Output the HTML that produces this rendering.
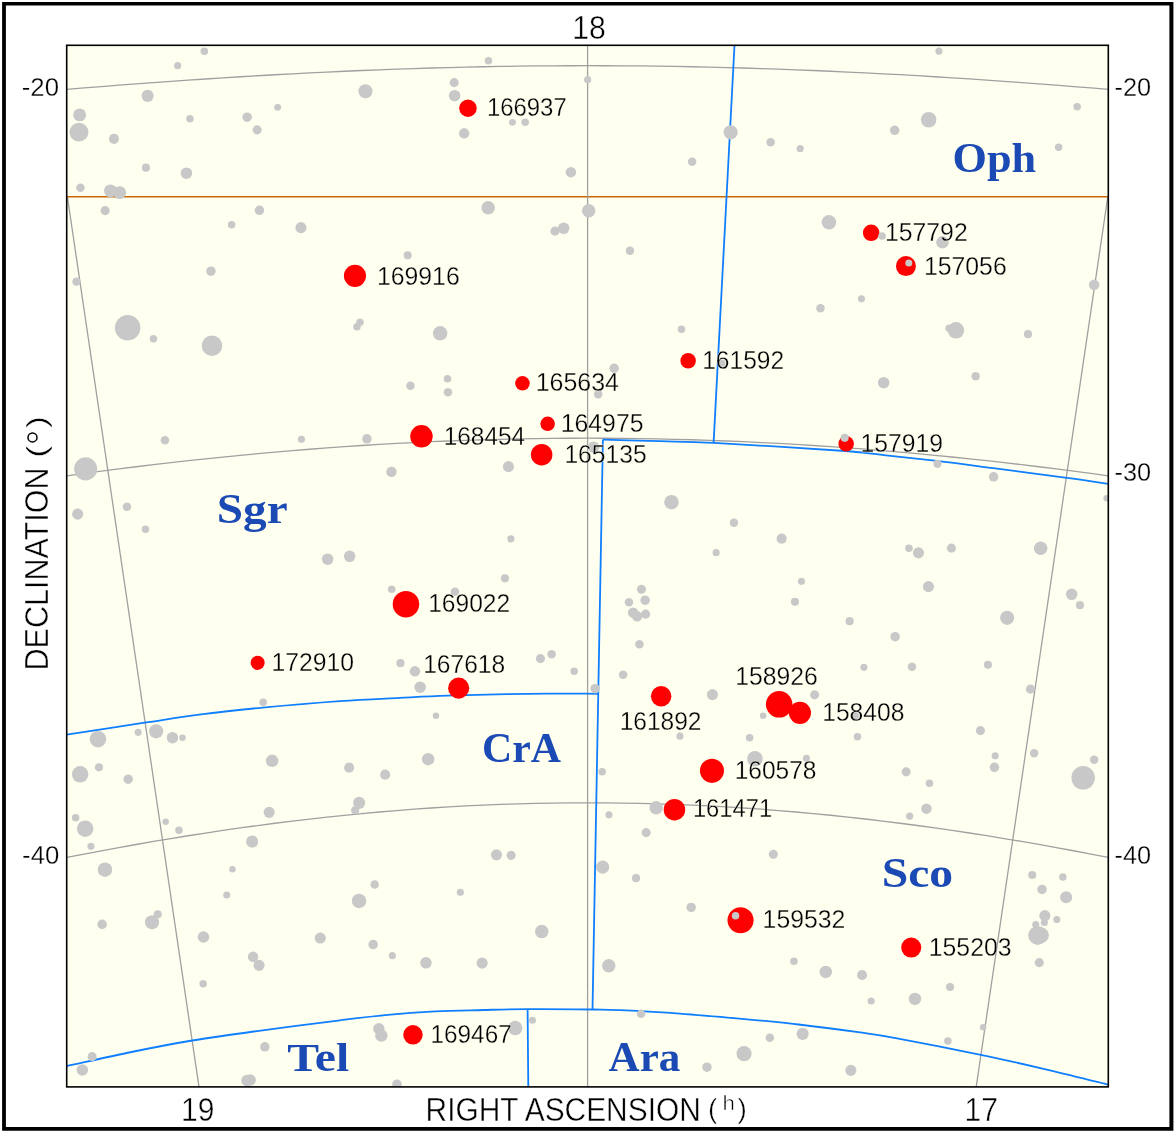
<!DOCTYPE html>
<html><head><meta charset="utf-8"><title>chart</title>
<style>
html,body{margin:0;padding:0;background:#fff;}
svg{display:block;}
text{font-family:"Liberation Sans",sans-serif;fill:#000;}
.c{font-family:"Liberation Serif",serif;font-weight:bold;fill:#1b4ab4;font-size:42px;}
.l{font-size:26.6px;stroke:#fffff0;stroke-width:0.3px;}
.a{font-size:26px;stroke:#fff;stroke-width:0.3px;}
.b{font-size:33.4px;stroke:#fff;stroke-width:0.45px;}
</style></head><body>
<svg width="1175" height="1133" viewBox="0 0 1175 1133">
<rect x="0" y="0" width="1175" height="1133" fill="#fff"/>
<path d="M2.1,2.1H1173.4V1130.7H2.1Z M5.9,5.4V1127H1169.4V5.4Z" fill="#000" fill-rule="evenodd"/>
<defs><filter id="idf" x="0" y="0" width="1175" height="1133" filterUnits="userSpaceOnUse" color-interpolation-filters="sRGB"><feOffset dx="0" dy="0"/></filter><clipPath id="cp"><rect x="66.7" y="45.3" width="1041.6" height="1041.6000000000001"/></clipPath></defs>
<rect x="66.7" y="45.3" width="1041.6" height="1041.6000000000001" fill="#fffff0"/>
<g clip-path="url(#cp)">
<path d="M66.7,196.75 L1108.3,196.75" stroke="#cc6600" stroke-width="1.5" fill="none"/>
<g fill="none" stroke="#a0a0a0" stroke-width="1.3">
<path d="M66.7,89.38 L84.1,87.96 L101.4,86.57 L118.8,85.22 L136.1,83.90 L153.5,82.61 L170.9,81.36 L188.2,80.15 L205.6,78.98 L222.9,77.86 L240.3,76.77 L257.7,75.73 L275.0,74.73 L292.4,73.79 L309.7,72.89 L327.1,72.04 L344.5,71.23 L361.8,70.49 L379.2,69.79 L396.5,69.14 L413.9,68.55 L431.3,68.01 L448.6,67.53 L466.0,67.10 L483.3,66.73 L500.7,66.42 L518.1,66.16 L535.4,65.96 L552.8,65.82 L570.1,65.73 L587.5,65.70 L604.9,65.73 L622.2,65.81 L639.6,65.96 L656.9,66.16 L674.3,66.42 L691.7,66.73 L709.0,67.10 L726.4,67.53 L743.7,68.01 L761.1,68.54 L778.5,69.14 L795.8,69.78 L813.2,70.48 L830.5,71.23 L847.9,72.03 L865.3,72.88 L882.6,73.78 L900.0,74.72 L917.3,75.72 L934.7,76.76 L952.1,77.84 L969.4,78.97 L986.8,80.14 L1004.1,81.35 L1021.5,82.60 L1038.9,83.88 L1056.2,85.20 L1073.6,86.56 L1090.9,87.94 L1108.3,89.36"/>
<path d="M66.7,475.82 L84.1,473.45 L101.4,471.15 L118.8,468.92 L136.1,466.76 L153.5,464.67 L170.9,462.65 L188.2,460.70 L205.6,458.83 L222.9,457.04 L240.3,455.32 L257.7,453.68 L275.0,452.12 L292.4,450.64 L309.7,449.23 L327.1,447.91 L344.5,446.67 L361.8,445.51 L379.2,444.44 L396.5,443.45 L413.9,442.54 L431.3,441.72 L448.6,440.98 L466.0,440.33 L483.3,439.77 L500.7,439.29 L518.1,438.90 L535.4,438.59 L552.8,438.38 L570.1,438.24 L587.5,438.20 L604.9,438.24 L622.2,438.37 L639.6,438.59 L656.9,438.89 L674.3,439.29 L691.7,439.76 L709.0,440.33 L726.4,440.98 L743.7,441.71 L761.1,442.53 L778.5,443.44 L795.8,444.43 L813.2,445.50 L830.5,446.66 L847.9,447.90 L865.3,449.22 L882.6,450.62 L900.0,452.10 L917.3,453.66 L934.7,455.30 L952.1,457.02 L969.4,458.81 L986.8,460.68 L1004.1,462.63 L1021.5,464.64 L1038.9,466.73 L1056.2,468.89 L1073.6,471.12 L1090.9,473.42 L1108.3,475.79"/>
<path d="M66.7,857.45 L84.1,854.08 L101.4,850.79 L118.8,847.59 L136.1,844.49 L153.5,841.47 L170.9,838.56 L188.2,835.75 L205.6,833.04 L222.9,830.43 L240.3,827.93 L257.7,825.54 L275.0,823.26 L292.4,821.09 L309.7,819.04 L327.1,817.10 L344.5,815.28 L361.8,813.58 L379.2,812.00 L396.5,810.55 L413.9,809.21 L431.3,808.00 L448.6,806.91 L466.0,805.95 L483.3,805.12 L500.7,804.41 L518.1,803.83 L535.4,803.38 L552.8,803.06 L570.1,802.87 L587.5,802.80 L604.9,802.86 L622.2,803.06 L639.6,803.38 L656.9,803.83 L674.3,804.41 L691.7,805.11 L709.0,805.94 L726.4,806.90 L743.7,807.99 L761.1,809.20 L778.5,810.53 L795.8,811.99 L813.2,813.57 L830.5,815.26 L847.9,817.08 L865.3,819.02 L882.6,821.07 L900.0,823.23 L917.3,825.51 L934.7,827.90 L952.1,830.40 L969.4,833.01 L986.8,835.72 L1004.1,838.53 L1021.5,841.44 L1038.9,844.45 L1056.2,847.56 L1073.6,850.75 L1090.9,854.04 L1108.3,857.41"/>
<path d="M587.6,45.3 L587.6,1086.9"/>
<path d="M67.5,197.5 L199.0,1086.9"/>
<path d="M1107.7,197.5 L976.2,1086.9"/>
</g>
<g fill="none" stroke="#0f7fff" stroke-width="1.8" stroke-linejoin="round">
<path d="M734.5,45.3 L713.6,442.9"/>
<path d="M602.9,439.6 C612.4,439.9 641.5,440.6 660.0,441.2 C678.5,441.8 682.9,441.3 713.8,442.9 C744.7,444.5 816.6,448.9 845.3,451.0 C874.0,453.1 870.7,453.7 886.0,455.3 C901.3,456.9 919.1,458.8 937.0,460.9 C954.9,463.0 971.8,465.3 993.4,468.1 C1015.0,470.9 1047.8,475.3 1066.9,477.9 C1086.1,480.5 1101.4,482.8 1108.3,483.8"/>
<path d="M602.9,439.5 L592.5,1009.5"/>
<path d="M66.7,734.7 C79.7,732.7 121.9,726.1 144.6,722.7 C167.3,719.3 183.3,716.6 203.0,714.1 C222.7,711.6 239.8,709.8 262.6,707.6 C285.4,705.4 317.2,702.7 340.0,701.1 C362.8,699.5 381.7,698.8 399.6,697.9 C417.5,697.0 429.3,696.3 447.2,695.7 C465.1,695.1 488.9,694.5 506.8,694.1 C524.7,693.8 539.3,693.7 554.5,693.6 C569.7,693.5 590.8,693.8 598.1,693.8"/>
<path d="M66.7,1066.1 C77.5,1063.8 110.6,1056.3 131.5,1052.0 C152.4,1047.7 170.5,1044.1 192.3,1040.5 C214.2,1036.9 238.0,1033.7 262.6,1030.3 C287.2,1026.9 319.1,1022.9 340.0,1020.3 C360.9,1017.7 371.8,1016.3 387.7,1014.8 C403.6,1013.3 419.4,1012.2 435.3,1011.4 C451.2,1010.6 467.6,1010.4 483.0,1010.0 C498.4,1009.6 509.3,1009.2 527.6,1009.1 C545.9,1009.0 577.2,1009.3 592.6,1009.5 C608.0,1009.7 605.5,1009.5 620.0,1010.2 C634.5,1010.9 659.7,1012.2 679.6,1013.6 C699.5,1015.0 719.4,1016.8 739.2,1018.6 C759.1,1020.4 778.9,1022.2 798.7,1024.5 C818.6,1026.8 841.9,1029.9 858.3,1032.2 C874.7,1034.5 876.6,1034.5 897.0,1038.3 C917.4,1042.1 955.3,1049.5 980.8,1054.8 C1006.3,1060.1 1028.7,1065.3 1049.9,1070.3 C1071.2,1075.3 1098.6,1082.3 1108.3,1084.7"/>
<path d="M527.6,1009.1 L528.3,1087"/>
</g>
<g fill="#ff0000">
<circle cx="467.95" cy="108.15" r="8.75"/>
<circle cx="354.95" cy="275.85" r="11.05"/>
<circle cx="871.15" cy="232.85" r="8.25"/>
<circle cx="905.95" cy="266.10" r="10.00"/>
<circle cx="688.15" cy="360.85" r="7.75"/>
<circle cx="522.45" cy="383.35" r="7.25"/>
<circle cx="547.65" cy="423.85" r="7.25"/>
<circle cx="421.45" cy="436.35" r="11.25"/>
<circle cx="541.65" cy="454.65" r="10.75"/>
<circle cx="846.15" cy="443.65" r="7.75"/>
<circle cx="405.95" cy="604.15" r="13.25"/>
<circle cx="257.65" cy="662.85" r="7.05"/>
<circle cx="458.65" cy="688.15" r="10.55"/>
<circle cx="661.15" cy="696.35" r="10.25"/>
<circle cx="779.15" cy="704.35" r="13.25"/>
<circle cx="799.95" cy="712.85" r="11.05"/>
<circle cx="711.95" cy="770.85" r="12.05"/>
<circle cx="674.45" cy="809.65" r="10.75"/>
<circle cx="740.55" cy="920.25" r="13.05"/>
<circle cx="911.25" cy="947.55" r="10.05"/>
<circle cx="412.95" cy="1034.85" r="9.75"/>
</g>
<g fill="#c8c8c8">
<circle cx="204.35" cy="51.15" r="3.75"/>
<circle cx="177.65" cy="65.65" r="3.55"/>
<circle cx="147.65" cy="95.85" r="6.05"/>
<circle cx="79.65" cy="114.85" r="6.45"/>
<circle cx="78.95" cy="132.15" r="9.45"/>
<circle cx="113.95" cy="138.85" r="5.05"/>
<circle cx="189.95" cy="118.85" r="3.75"/>
<circle cx="247.15" cy="117.15" r="4.75"/>
<circle cx="277.65" cy="107.35" r="3.45"/>
<circle cx="257.15" cy="129.85" r="4.55"/>
<circle cx="145.95" cy="167.65" r="4.05"/>
<circle cx="186.45" cy="173.15" r="5.75"/>
<circle cx="80.45" cy="187.85" r="4.25"/>
<circle cx="110.45" cy="190.85" r="6.45"/>
<circle cx="119.65" cy="192.65" r="6.45"/>
<circle cx="105.15" cy="210.65" r="4.55"/>
<circle cx="259.45" cy="210.35" r="4.75"/>
<circle cx="231.65" cy="224.85" r="3.75"/>
<circle cx="210.95" cy="271.15" r="4.75"/>
<circle cx="76.45" cy="281.65" r="4.05"/>
<circle cx="488.45" cy="60.85" r="3.75"/>
<circle cx="454.15" cy="82.65" r="4.55"/>
<circle cx="454.65" cy="95.65" r="5.75"/>
<circle cx="365.45" cy="91.35" r="7.05"/>
<circle cx="512.45" cy="122.35" r="3.45"/>
<circle cx="525.15" cy="122.15" r="3.75"/>
<circle cx="464.15" cy="133.35" r="5.25"/>
<circle cx="570.95" cy="172.15" r="5.25"/>
<circle cx="587.65" cy="79.65" r="3.55"/>
<circle cx="488.15" cy="207.65" r="6.75"/>
<circle cx="300.95" cy="227.65" r="5.55"/>
<circle cx="554.95" cy="231.15" r="4.55"/>
<circle cx="563.65" cy="228.35" r="5.75"/>
<circle cx="407.65" cy="255.35" r="4.05"/>
<circle cx="588.65" cy="210.85" r="6.75"/>
<circle cx="730.65" cy="132.35" r="7.05"/>
<circle cx="770.65" cy="142.35" r="4.25"/>
<circle cx="800.15" cy="148.65" r="3.55"/>
<circle cx="692.15" cy="161.65" r="4.25"/>
<circle cx="629.95" cy="250.85" r="4.25"/>
<circle cx="828.95" cy="222.35" r="7.25"/>
<circle cx="882.05" cy="236.00" r="3.80"/>
<circle cx="938.95" cy="51.15" r="3.55"/>
<circle cx="928.65" cy="119.85" r="7.75"/>
<circle cx="894.65" cy="130.35" r="4.75"/>
<circle cx="1077.15" cy="106.65" r="3.75"/>
<circle cx="1058.65" cy="147.15" r="3.75"/>
<circle cx="942.45" cy="242.35" r="6.25"/>
<circle cx="1094.15" cy="284.85" r="5.25"/>
<circle cx="127.65" cy="327.85" r="12.75"/>
<circle cx="153.45" cy="338.65" r="3.75"/>
<circle cx="211.95" cy="345.85" r="10.25"/>
<circle cx="164.95" cy="440.15" r="4.25"/>
<circle cx="85.65" cy="468.85" r="11.55"/>
<circle cx="77.65" cy="514.15" r="5.55"/>
<circle cx="126.95" cy="506.85" r="4.25"/>
<circle cx="145.45" cy="529.15" r="3.75"/>
<circle cx="359.95" cy="322.15" r="3.75"/>
<circle cx="356.95" cy="326.85" r="3.75"/>
<circle cx="440.15" cy="333.35" r="7.25"/>
<circle cx="410.45" cy="385.65" r="4.25"/>
<circle cx="447.45" cy="378.85" r="3.75"/>
<circle cx="447.95" cy="392.35" r="4.25"/>
<circle cx="301.45" cy="439.35" r="3.55"/>
<circle cx="366.95" cy="438.85" r="4.75"/>
<circle cx="391.45" cy="471.85" r="5.25"/>
<circle cx="508.45" cy="466.65" r="5.55"/>
<circle cx="510.95" cy="538.85" r="3.55"/>
<circle cx="327.65" cy="559.15" r="5.75"/>
<circle cx="349.65" cy="556.35" r="5.75"/>
<circle cx="820.45" cy="308.35" r="4.25"/>
<circle cx="861.45" cy="298.85" r="3.55"/>
<circle cx="681.45" cy="329.15" r="3.75"/>
<circle cx="721.95" cy="363.35" r="3.55"/>
<circle cx="614.15" cy="368.35" r="4.75"/>
<circle cx="598.15" cy="394.15" r="4.25"/>
<circle cx="593.65" cy="447.15" r="5.75"/>
<circle cx="671.45" cy="502.15" r="7.25"/>
<circle cx="733.95" cy="522.65" r="4.25"/>
<circle cx="781.65" cy="538.65" r="5.05"/>
<circle cx="716.15" cy="552.65" r="3.55"/>
<circle cx="883.65" cy="382.65" r="5.75"/>
<circle cx="955.95" cy="330.35" r="8.25"/>
<circle cx="949.15" cy="328.35" r="3.75"/>
<circle cx="1027.95" cy="334.15" r="4.05"/>
<circle cx="975.65" cy="376.15" r="4.25"/>
<circle cx="937.45" cy="463.85" r="4.05"/>
<circle cx="993.65" cy="476.85" r="4.75"/>
<circle cx="1106.65" cy="498.35" r="3.25"/>
<circle cx="908.95" cy="548.15" r="3.75"/>
<circle cx="918.45" cy="552.85" r="5.55"/>
<circle cx="951.45" cy="548.15" r="4.55"/>
<circle cx="1040.65" cy="548.15" r="6.75"/>
<circle cx="263.15" cy="702.35" r="3.75"/>
<circle cx="97.95" cy="739.15" r="8.25"/>
<circle cx="138.15" cy="732.35" r="3.55"/>
<circle cx="156.15" cy="731.35" r="7.05"/>
<circle cx="172.45" cy="737.65" r="5.75"/>
<circle cx="182.45" cy="737.85" r="3.25"/>
<circle cx="98.95" cy="767.35" r="4.05"/>
<circle cx="80.15" cy="774.35" r="8.25"/>
<circle cx="128.15" cy="779.15" r="4.75"/>
<circle cx="272.15" cy="760.85" r="6.25"/>
<circle cx="269.15" cy="812.35" r="5.55"/>
<circle cx="75.65" cy="817.65" r="3.75"/>
<circle cx="85.15" cy="828.65" r="8.25"/>
<circle cx="165.65" cy="821.65" r="3.25"/>
<circle cx="178.95" cy="830.35" r="3.75"/>
<circle cx="252.15" cy="841.65" r="6.05"/>
<circle cx="90.95" cy="846.35" r="3.55"/>
<circle cx="504.95" cy="578.35" r="4.05"/>
<circle cx="391.65" cy="589.15" r="3.75"/>
<circle cx="454.95" cy="591.65" r="4.25"/>
<circle cx="400.45" cy="663.15" r="4.05"/>
<circle cx="414.95" cy="671.35" r="5.25"/>
<circle cx="420.15" cy="687.15" r="5.75"/>
<circle cx="540.45" cy="658.65" r="4.55"/>
<circle cx="551.65" cy="654.15" r="4.25"/>
<circle cx="574.15" cy="671.15" r="3.75"/>
<circle cx="435.95" cy="715.85" r="3.25"/>
<circle cx="428.15" cy="759.15" r="6.25"/>
<circle cx="349.15" cy="767.65" r="5.05"/>
<circle cx="385.15" cy="774.65" r="5.05"/>
<circle cx="359.15" cy="802.85" r="6.05"/>
<circle cx="355.15" cy="810.35" r="4.05"/>
<circle cx="801.45" cy="581.35" r="3.55"/>
<circle cx="794.95" cy="601.85" r="4.05"/>
<circle cx="849.65" cy="621.15" r="4.05"/>
<circle cx="863.95" cy="667.35" r="3.55"/>
<circle cx="641.45" cy="589.35" r="4.55"/>
<circle cx="645.15" cy="600.15" r="4.75"/>
<circle cx="628.95" cy="602.15" r="4.25"/>
<circle cx="633.15" cy="612.65" r="5.25"/>
<circle cx="637.15" cy="616.35" r="5.25"/>
<circle cx="645.65" cy="614.15" r="4.55"/>
<circle cx="639.45" cy="644.15" r="4.25"/>
<circle cx="623.15" cy="674.85" r="4.25"/>
<circle cx="595.15" cy="688.65" r="4.75"/>
<circle cx="712.45" cy="694.65" r="5.55"/>
<circle cx="814.65" cy="694.85" r="4.55"/>
<circle cx="763.15" cy="715.65" r="3.25"/>
<circle cx="855.15" cy="715.65" r="3.75"/>
<circle cx="857.45" cy="736.85" r="3.75"/>
<circle cx="679.95" cy="736.15" r="3.55"/>
<circle cx="749.65" cy="737.65" r="3.75"/>
<circle cx="754.95" cy="758.85" r="7.75"/>
<circle cx="806.45" cy="758.35" r="3.55"/>
<circle cx="602.15" cy="771.85" r="3.75"/>
<circle cx="656.15" cy="807.85" r="6.75"/>
<circle cx="608.95" cy="814.85" r="3.55"/>
<circle cx="646.15" cy="832.65" r="4.55"/>
<circle cx="928.45" cy="586.65" r="5.55"/>
<circle cx="1071.65" cy="594.35" r="5.75"/>
<circle cx="1079.95" cy="605.15" r="4.05"/>
<circle cx="1007.15" cy="617.85" r="7.05"/>
<circle cx="895.15" cy="636.65" r="4.75"/>
<circle cx="911.95" cy="666.65" r="4.25"/>
<circle cx="987.95" cy="664.85" r="4.05"/>
<circle cx="1030.45" cy="689.15" r="4.55"/>
<circle cx="980.45" cy="730.65" r="4.55"/>
<circle cx="995.15" cy="755.85" r="3.55"/>
<circle cx="994.45" cy="767.35" r="4.75"/>
<circle cx="1034.15" cy="753.35" r="4.25"/>
<circle cx="1094.15" cy="759.85" r="4.25"/>
<circle cx="1083.15" cy="777.85" r="11.75"/>
<circle cx="906.15" cy="771.85" r="4.55"/>
<circle cx="929.45" cy="783.35" r="3.75"/>
<circle cx="926.45" cy="808.65" r="5.25"/>
<circle cx="909.65" cy="816.15" r="3.55"/>
<circle cx="104.95" cy="869.65" r="7.25"/>
<circle cx="232.45" cy="869.35" r="3.25"/>
<circle cx="226.75" cy="894.95" r="3.55"/>
<circle cx="157.75" cy="914.35" r="4.05"/>
<circle cx="152.05" cy="922.35" r="7.05"/>
<circle cx="102.15" cy="924.35" r="4.75"/>
<circle cx="203.45" cy="937.05" r="5.75"/>
<circle cx="253.05" cy="956.85" r="5.25"/>
<circle cx="259.05" cy="965.35" r="5.55"/>
<circle cx="203.15" cy="983.75" r="3.75"/>
<circle cx="264.85" cy="1046.85" r="4.75"/>
<circle cx="92.15" cy="1056.65" r="4.55"/>
<circle cx="82.35" cy="1069.95" r="5.75"/>
<circle cx="246.95" cy="1080.55" r="5.75"/>
<circle cx="250.15" cy="1079.95" r="5.75"/>
<circle cx="496.45" cy="854.85" r="5.55"/>
<circle cx="511.15" cy="855.35" r="4.55"/>
<circle cx="374.65" cy="884.45" r="4.25"/>
<circle cx="359.05" cy="900.95" r="7.25"/>
<circle cx="460.35" cy="892.25" r="3.55"/>
<circle cx="541.75" cy="931.55" r="6.75"/>
<circle cx="320.25" cy="938.05" r="5.55"/>
<circle cx="373.15" cy="944.55" r="4.75"/>
<circle cx="392.35" cy="955.65" r="3.55"/>
<circle cx="425.95" cy="962.85" r="5.75"/>
<circle cx="482.15" cy="963.15" r="5.55"/>
<circle cx="378.85" cy="1028.75" r="5.75"/>
<circle cx="381.35" cy="1035.55" r="6.25"/>
<circle cx="515.15" cy="1028.05" r="7.25"/>
<circle cx="532.45" cy="1020.25" r="3.55"/>
<circle cx="396.95" cy="1084.15" r="4.75"/>
<circle cx="773.35" cy="854.35" r="4.55"/>
<circle cx="602.65" cy="867.15" r="6.55"/>
<circle cx="636.05" cy="878.15" r="4.05"/>
<circle cx="691.15" cy="907.45" r="4.75"/>
<circle cx="608.75" cy="965.65" r="6.75"/>
<circle cx="793.95" cy="961.35" r="3.75"/>
<circle cx="825.75" cy="971.95" r="6.25"/>
<circle cx="862.05" cy="974.95" r="5.05"/>
<circle cx="871.15" cy="1000.95" r="3.55"/>
<circle cx="641.05" cy="1013.75" r="4.25"/>
<circle cx="802.65" cy="1033.85" r="6.05"/>
<circle cx="769.85" cy="1037.85" r="4.25"/>
<circle cx="744.05" cy="1053.65" r="7.55"/>
<circle cx="706.95" cy="1067.15" r="4.75"/>
<circle cx="850.85" cy="1070.35" r="5.55"/>
<circle cx="1032.25" cy="874.95" r="4.05"/>
<circle cx="1062.85" cy="876.95" r="3.75"/>
<circle cx="1042.05" cy="889.45" r="4.75"/>
<circle cx="1066.15" cy="897.25" r="6.05"/>
<circle cx="1044.85" cy="915.55" r="5.55"/>
<circle cx="1056.85" cy="919.55" r="3.55"/>
<circle cx="1044.35" cy="922.55" r="3.55"/>
<circle cx="1035.75" cy="924.55" r="3.55"/>
<circle cx="1037.70" cy="935.40" r="9.50"/>
<circle cx="1041.20" cy="935.20" r="7.70"/>
<circle cx="1039.25" cy="962.65" r="4.55"/>
<circle cx="950.05" cy="986.95" r="4.05"/>
<circle cx="914.95" cy="998.95" r="6.25"/>
<circle cx="983.15" cy="1027.35" r="3.25"/>
<circle cx="947.85" cy="1041.05" r="3.75"/>
</g>
<g fill="#c8c8c8">
<circle cx="908.80" cy="262.90" r="3.50"/>
<circle cx="844.65" cy="437.85" r="4.05"/>
<circle cx="735.55" cy="915.75" r="3.75"/>
</g>
</g>
<rect x="66.7" y="45.3" width="1041.6" height="1041.6000000000001" fill="none" stroke="#000" stroke-width="1.6"/>
<g filter="url(#idf)">
<text class="l" x="486.9" y="116.2" textLength="79.8" lengthAdjust="spacingAndGlyphs">166937</text>
<text class="l" x="376.9" y="284.5" textLength="82.8" lengthAdjust="spacingAndGlyphs">169916</text>
<text class="l" x="884.9" y="241" textLength="82.8" lengthAdjust="spacingAndGlyphs">157792</text>
<text class="l" x="923.9" y="275" textLength="82.8" lengthAdjust="spacingAndGlyphs">157056</text>
<text class="l" x="702.2" y="368.8" textLength="82.0" lengthAdjust="spacingAndGlyphs">161592</text>
<text class="l" x="535.7" y="391" textLength="83.3" lengthAdjust="spacingAndGlyphs">165634</text>
<text class="l" x="560.7" y="431.8" textLength="82.8" lengthAdjust="spacingAndGlyphs">164975</text>
<text class="l" x="443.7" y="445" textLength="81.5" lengthAdjust="spacingAndGlyphs">168454</text>
<text class="l" x="564.4" y="462.5" textLength="82.3" lengthAdjust="spacingAndGlyphs">165135</text>
<text class="l" x="860.4" y="452" textLength="82.5" lengthAdjust="spacingAndGlyphs">157919</text>
<text class="l" x="428.2" y="612.3" textLength="82.0" lengthAdjust="spacingAndGlyphs">169022</text>
<text class="l" x="271.4" y="671" textLength="82.6" lengthAdjust="spacingAndGlyphs">172910</text>
<text class="l" x="423.2" y="673" textLength="82.0" lengthAdjust="spacingAndGlyphs">167618</text>
<text class="l" x="619.7" y="729.8" textLength="81.8" lengthAdjust="spacingAndGlyphs">161892</text>
<text class="l" x="735.2" y="684.8" textLength="82.5" lengthAdjust="spacingAndGlyphs">158926</text>
<text class="l" x="822.2" y="721" textLength="82.3" lengthAdjust="spacingAndGlyphs">158408</text>
<text class="l" x="734.7" y="779" textLength="81.8" lengthAdjust="spacingAndGlyphs">160578</text>
<text class="l" x="692.9" y="817.3" textLength="79.3" lengthAdjust="spacingAndGlyphs">161471</text>
<text class="l" x="762.6" y="928" textLength="82.7" lengthAdjust="spacingAndGlyphs">159532</text>
<text class="l" x="928.8" y="956" textLength="82.7" lengthAdjust="spacingAndGlyphs">155203</text>
<text class="l" x="430.5" y="1043.2" textLength="81.2" lengthAdjust="spacingAndGlyphs">169467</text>
<text class="c" style="font-size:42px" x="952.5" y="172" textLength="83.6" lengthAdjust="spacingAndGlyphs">Oph</text>
<text class="c" style="font-size:42px" x="216.8" y="523" textLength="70.9" lengthAdjust="spacingAndGlyphs">Sgr</text>
<text class="c" style="font-size:42px" x="482" y="761.8" textLength="79" lengthAdjust="spacingAndGlyphs">CrA</text>
<text class="c" style="font-size:42px" x="881.7" y="887.2" textLength="71.4" lengthAdjust="spacingAndGlyphs">Sco</text>
<text class="c" style="font-size:41px" x="287.3" y="1071" textLength="61.9" lengthAdjust="spacingAndGlyphs">Tel</text>
<text class="c" style="font-size:41.5px" x="608.6" y="1070.8" textLength="71.7" lengthAdjust="spacingAndGlyphs">Ara</text>
<text class="a" x="21.8" y="96.3" textLength="37.2" lengthAdjust="spacingAndGlyphs">-20</text>
<text class="a" x="22.1" y="864" textLength="37.2" lengthAdjust="spacingAndGlyphs">-40</text>
<text class="a" x="1114.6" y="96.3" textLength="36.6" lengthAdjust="spacingAndGlyphs">-20</text>
<text class="a" x="1114.5" y="481.3" textLength="36.6" lengthAdjust="spacingAndGlyphs">-30</text>
<text class="a" x="1114.6" y="864" textLength="36.6" lengthAdjust="spacingAndGlyphs">-40</text>
<text class="b" x="572.3" y="38.6" textLength="33.6" lengthAdjust="spacingAndGlyphs">18</text>
<text class="b" x="181" y="1121" textLength="33.4" lengthAdjust="spacingAndGlyphs">19</text>
<text class="b" x="964.5" y="1121" textLength="33.4" lengthAdjust="spacingAndGlyphs">17</text>
<text class="b" x="425.6" y="1121" textLength="275.2" lengthAdjust="spacingAndGlyphs">RIGHT ASCENSION</text>
<text x="708" y="1117.6" font-size="28" style="stroke:#fff;stroke-width:0.45px">(</text>
<text x="722.6" y="1109.9" font-size="20.5" style="stroke:#fff;stroke-width:0.5px" textLength="12.4" lengthAdjust="spacingAndGlyphs">h</text>
<text x="737.6" y="1117.6" font-size="28" style="stroke:#fff;stroke-width:0.45px">)</text>
<text class="b" transform="translate(48.2,670.5) rotate(-90)" textLength="203" lengthAdjust="spacingAndGlyphs">DECLINATION</text>
<text transform="translate(46.1,457.7) rotate(-90)" font-size="28" style="stroke:#fff;stroke-width:0.45px" textLength="12.1" lengthAdjust="spacingAndGlyphs">(</text>
<text transform="translate(46.1,427.9) rotate(-90)" font-size="28" style="stroke:#fff;stroke-width:0.45px" textLength="12.1" lengthAdjust="spacingAndGlyphs">)</text>
<circle cx="32.5" cy="437.4" r="4.5" fill="none" stroke="#000" stroke-width="1.5"/>
</g>
</svg></body></html>
